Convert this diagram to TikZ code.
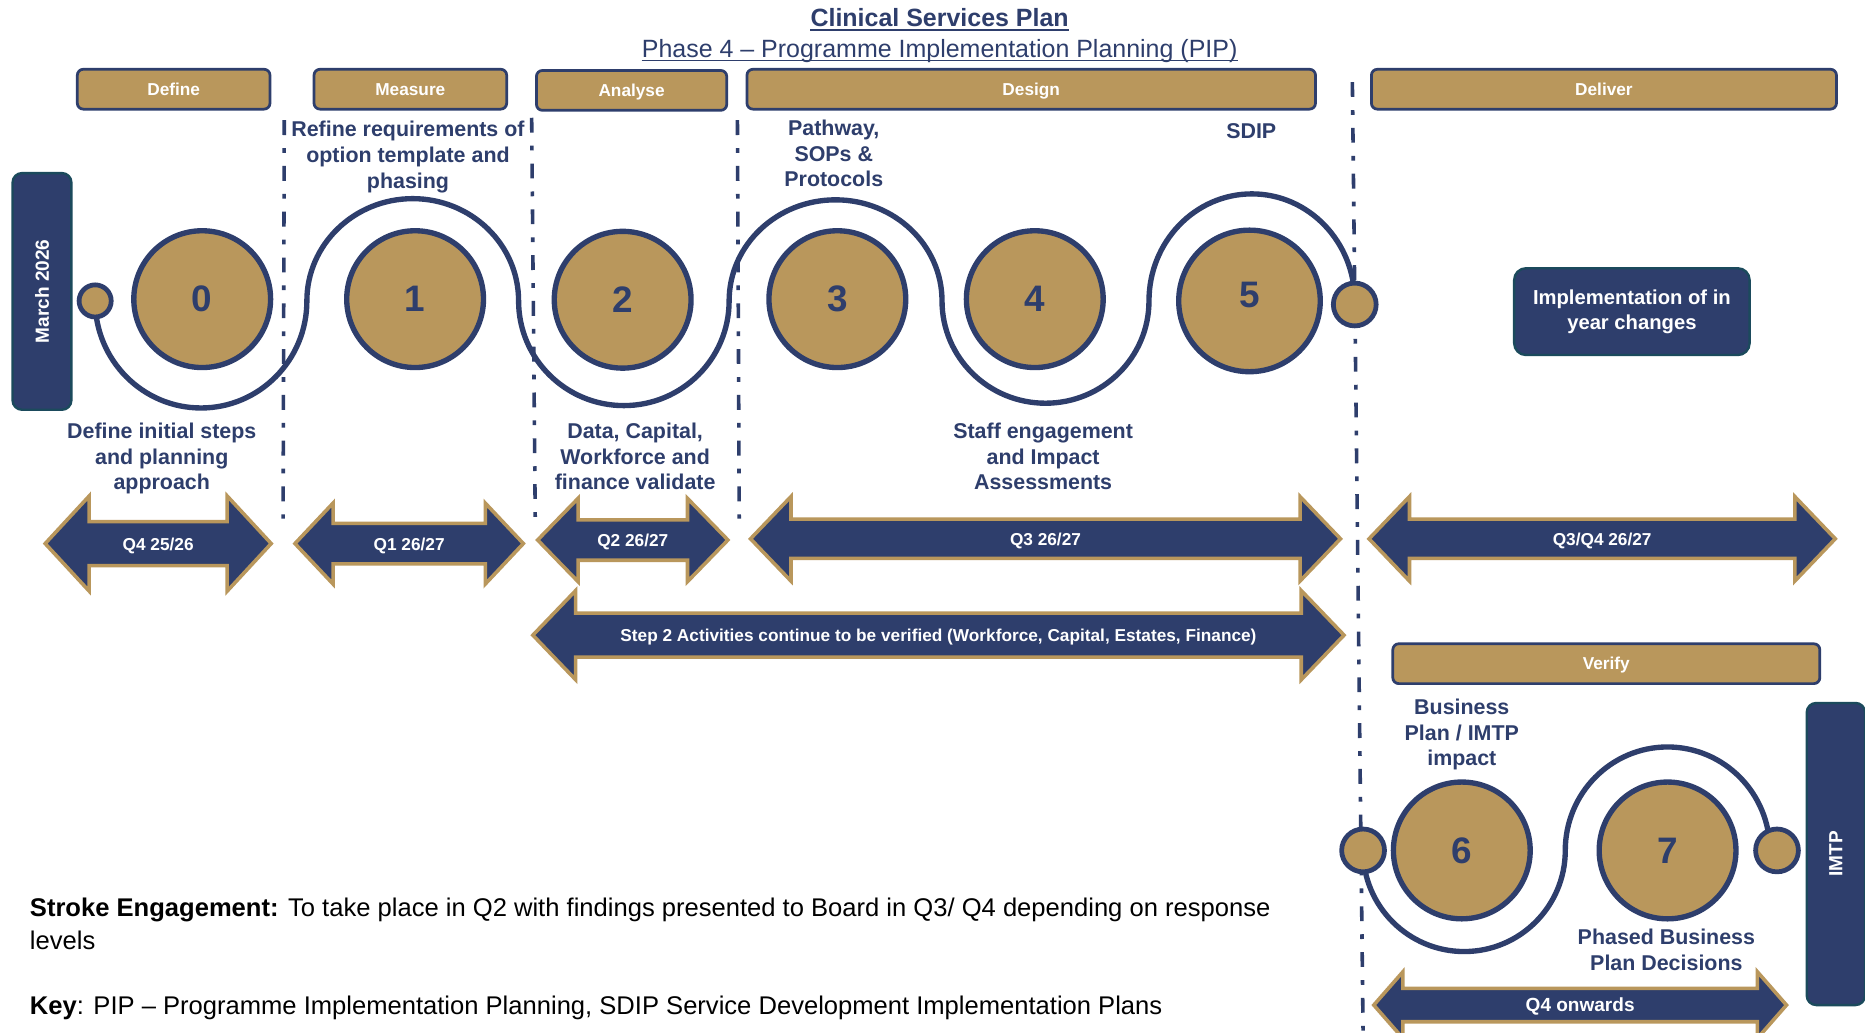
\documentclass[tikz,border=0pt]{standalone}
\usepackage{fontspec}
\setmainfont{Liberation Sans}

\definecolor{navy}{RGB}{46,62,108}
\definecolor{gold}{RGB}{185,151,92}
\definecolor{boxedge}{RGB}{27,74,92}

\begin{document}
\begin{tikzpicture}[x=1pt, y=1pt,
	phase/.style={draw=navy, line width=2.3pt, fill=gold, rounded corners=5pt, text=white, font=\bfseries\fontsize{14.5}{17}\selectfont, minimum height=33.5pt, inner sep=0pt, text height=10.4pt, text depth=0pt},
	stepnum/.style={circle, draw=navy, line width=4.5pt, fill=gold, text=navy, font=\bfseries\fontsize{31}{36}\selectfont, minimum size=115pt, inner sep=0pt},
	joint/.style={circle, draw=navy, line width=4pt, fill=gold, inner sep=0pt},
	note/.style={text=navy, font=\bfseries\fontsize{18}{21.5}\selectfont, align=center, inner sep=0pt},
	sidebox/.style={draw=boxedge, line width=2pt, fill=navy, rounded corners=8pt, text=white, font=\bfseries\fontsize{16}{19}\selectfont, inner sep=0pt},
	divider/.style={navy, line width=3pt, dash pattern=on 12.5pt off 11pt on 4pt off 11pt},
	snake/.style={navy, line width=4.5pt},
	qarrow/.style={fill=navy, draw=gold, line width=3pt, line join=miter},
	qtext/.style={text=white, inner sep=0pt, text height=10.5pt, text depth=0pt}]

	\path[use as bounding box, fill=white] (0,0) rectangle (1568,-868);

	\coordinate (D1t) at (239,-101);
	\coordinate (D1b) at (238,-436);
	\coordinate (D2t) at (447,-99);
	\coordinate (D2b) at (450,-436);
	\coordinate (D3t) at (620,-101);
	\coordinate (D3b) at (621.5,-436);
	\coordinate (D4t) at (1137,-69);
	\coordinate (D4b) at (1146,-868);
	\coordinate (a0) at (80,-253);
	\coordinate (a1) at (1139,-256);
	\coordinate (v0) at (1146,-715);
	\coordinate (v1) at (1494,-715);

	% quarter dividers
	\draw[divider] (D1t) -- (D1b);
	\draw[divider] (D2t) -- (D2b);
	\draw[divider] (D3t) -- (D3b);
	\draw[divider] (D4t) -- (D4b);

	% title
	\node[text=navy, font=\bfseries\fontsize{21}{25}\selectfont, inner sep=0pt, anchor=base] (title) at (790,-22.4) {Clinical Services Plan};
	\node[text=navy, font=\fontsize{21}{25}\selectfont, inner sep=0pt, anchor=base] (subtitle) at (790,-48) {Phase 4 – Programme Implementation Planning (PIP)};
	\draw[navy, line width=1.6pt] ([yshift=-2.6pt]title.base west) -- ([yshift=-2.6pt]title.base east);
	\draw[navy, line width=1.2pt] ([yshift=-3pt]subtitle.base west) -- ([yshift=-3pt]subtitle.base east);

	% phases
	\node[phase, minimum width=162pt] (define) at (146,-75) {Define};
	\node[phase, minimum width=162pt] (measure) at (345,-75) {Measure};
	\node[phase, minimum width=160pt] (analyse) at (531,-76) {Analyse};
	\node[phase, minimum width=478pt] (design) at (867,-75) {Design};
	\node[phase, minimum width=391pt] (deliver) at (1348.5,-75) {Deliver};
	\node[phase, minimum width=359pt] (verify) at (1350.5,-558) {Verify};

	% the path through the steps
	\draw[snake] (a0) arc[start angle=180, end angle=360, x radius=89, y radius=90]
		arc[start angle=180, end angle=0, x radius=89, y radius=86]
		arc[start angle=180, end angle=360, x radius=88.5, y radius=88]
		arc[start angle=180, end angle=0, x radius=89.5, y radius=85]
		arc[start angle=180, end angle=360, x radius=87, y radius=86]
		arc[start angle=180, end angle=0, x radius=86.5, y radius=90];
	\draw[snake] (v0) arc[start angle=180, end angle=360, x radius=85, y radius=85]
		arc[start angle=180, end angle=0, x radius=86, y radius=87];

	\node[joint, minimum size=27pt] (pa) at (a0) {};
	\node[joint, minimum size=36pt] (pb) at (a1) {};
	\node[joint, minimum size=36pt] (pc) at (v0) {};
	\node[joint, minimum size=36pt] (pd) at (v1) {};

	\node[stepnum] (s0) at (170,-251.5) {0};
	\node[stepnum] (s1) at (349,-251.5) {1};
	\node[stepnum] (s2) at (523.5,-252) {2};
	\node[stepnum] (s3) at (704,-251.5) {3};
	\node[stepnum] (s4) at (870,-251.5) {4};
	\node[stepnum, minimum size=119pt] (s5) at (1050.5,-253) {\raisebox{11pt}{5}};
	\node[stepnum] (s6) at (1229,-715) {6};
	\node[stepnum] (s7) at (1402,-715) {7};

	% step notes
	\node[note] (n0) at (136,-385.5) {Define initial steps\\and planning\\approach};
	\node[note] (n1) at (343,-132) {Refine requirements of\\option template and\\phasing};
	\node[note] (n2) at (534,-384) {Data, Capital,\\Workforce and\\finance validate};
	\node[note] (n3) at (701,-129) {Pathway,\\SOPs \&\\Protocols};
	\node[note] (n4) at (877,-384) {Staff engagement\\and Impact\\Assessments};
	\node[note] (n5) at (1052,-110) {SDIP};
	\node[note] (n6) at (1229,-617.5) {Business\\Plan / IMTP\\impact};
	\node[note] (n7) at (1401,-798.5) {Phased Business\\Plan Decisions};

	% side boxes
	\node[sidebox, rotate=90, minimum width=199pt, minimum height=49.5pt] (march) at (35.3,-245) {March 2026};
	\node[sidebox, rotate=90, minimum width=254pt, minimum height=49pt] (imtp) at (1543.5,-718) {IMTP};
	\node[sidebox, rounded corners=10pt, minimum width=198pt, minimum height=73pt, align=center, font=\bfseries\fontsize{17}{21}\selectfont] (inyear) at (1372,-262) {Implementation of in\\year changes};

	% quarters
	\foreach \nm/\xl/\xr/\yc/\hl/\hh/\bh/\fs/\txt in {
		qa/38/228/457/37/40/18.5/14.5/{Q4 25/26},
		qb/248/440/457/32/34/17/14.5/{Q1 26/27},
		qc/452/612/454/34/35/17/14.5/{Q2 26/27},
		qd/631/1127/453/34/35.5/16.5/14.5/{Q3 26/27},
		qe/1151/1543/453/34/35.5/16.5/14.5/{Q3/Q4 26/27},
		sb/448/1130/534/36/37.5/18.5/14.5/{Step 2 Activities continue to be verified (Workforce, Capital, Estates, Finance)},
		qf/1155/1502/845/24.5/28/14/16/{Q4 onwards}}
	{
		\filldraw[qarrow] (\xl,-\yc) -- (\xl+\hl,-\yc+\hh) -- (\xl+\hl,-\yc+\bh) -- (\xr-\hl,-\yc+\bh) -- (\xr-\hl,-\yc+\hh) -- (\xr,-\yc) -- (\xr-\hl,-\yc-\hh) -- (\xr-\hl,-\yc-\bh) -- (\xl+\hl,-\yc-\bh) -- (\xl+\hl,-\yc-\hh) -- cycle;
		\node[qtext, font=\bfseries\fontsize{\fs}{19}\selectfont] (\nm) at ({(\xl+\xr)/2},-\yc-0.5) {\txt};
	}

	% notes at the bottom
	\node[anchor=west, align=left, inner sep=0pt, font=\fontsize{21.5}{28}\selectfont] (stroke) at (25,-776.5) {\textbf{Stroke Engagement:} To take place in Q2 with findings presented to Board in Q3/ Q4 depending on response\\levels};
	\node[anchor=west, inner sep=0pt, font=\fontsize{21.5}{26}\selectfont] (key) at (25,-847.5) {\textbf{Key}: PIP – Programme Implementation Planning, SDIP Service Development Implementation Plans};
\end{tikzpicture}
\end{document}
